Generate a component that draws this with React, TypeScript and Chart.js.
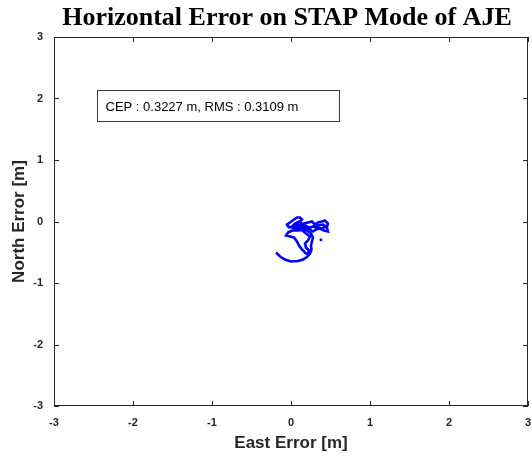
import React, { useEffect, useRef } from "react";
import { Chart, registerables } from "chart.js";

Chart.register(...registerables);

const titleText = "Horizontal Error on STAP Mode of AJE";
const xAxisTitle = "East Error [m]";
const yAxisTitle = "North Error [m]";
const annotationText = "CEP : 0.3227 m, RMS : 0.3109 m";
const tickValues = [-3, -2, -1, 0, 1, 2, 3];

const eastError = [
  -0.189, -0.139, -0.076, 0.0, 0.088, 0.152, 0.202, 0.24, 0.259, 0.253, 0.265, 0.278,
  0.253, 0.202, 0.152, 0.088, 0.013, -0.038, -0.063, -0.013, 0.038, 0.076, 0.101, 0.139,
  0.177, 0.215, 0.227, 0.189, 0.177, 0.215, 0.24, 0.126, 0.076, 0.013, -0.038, -0.051,
  -0.013, 0.038, 0.076, 0.114, 0.139, 0.101, 0.063, 0.114, 0.164, 0.215, 0.265, 0.303,
  0.341, 0.391, 0.429, 0.467, 0.455, 0.467, 0.417, 0.366, 0.316, 0.278, 0.24, 0.189,
  0.152, 0.101, 0.051, 0.013, 0.063, 0.126, 0.177, 0.227, 0.29, 0.341, 0.404, 0.442,
  0.391, 0.328, 0.278, 0.215, 0.164, 0.114, 0.063, 0.025,
];
const northError = [
  -0.504, -0.569, -0.618, -0.65, -0.642, -0.618, -0.577, -0.52, -0.455, -0.39, -0.325, -0.26,
  -0.195, -0.146, -0.13, -0.146, -0.146, -0.179, -0.228, -0.244, -0.26, -0.325, -0.39, -0.455,
  -0.504, -0.537, -0.472, -0.423, -0.358, -0.309, -0.244, -0.13, -0.098, -0.098, -0.081, -0.049,
  -0.016, 0.033, 0.065, 0.065, 0.033, -0.016, -0.049, -0.065, -0.033, -0.016, 0.0, -0.049,
  -0.016, 0.0, 0.016, -0.033, -0.098, -0.163, -0.146, -0.114, -0.13, -0.163, -0.13, -0.081,
  -0.049, 0.0, -0.033, -0.081, -0.065, -0.098, -0.065, -0.098, -0.081, -0.065, -0.049, -0.081,
  -0.114, -0.098, -0.081, -0.114, -0.098, -0.114, -0.13, -0.114,
];
const strayEast = [0.379];
const strayNorth = [-0.298];

const framePlugin = {
  id: "frameAndBox",
  afterDraw(chart: any) {
    const { ctx, chartArea, scales } = chart;
    const { left, right, top, bottom } = chartArea;
    ctx.save();
    ctx.strokeStyle = "#262626";
    ctx.lineWidth = 1;
    ctx.strokeRect(Math.round(left) + 0.5, Math.round(top) + 0.5, Math.round(right - left) - 1, Math.round(bottom - top) - 1);
    const tl = 5;
    ctx.beginPath();
    tickValues.forEach((v) => {
      const px = Math.round(scales.x.getPixelForValue(v)) + 0.5;
      ctx.moveTo(px, bottom);
      ctx.lineTo(px, bottom - tl);
      ctx.moveTo(px, top);
      ctx.lineTo(px, top + tl);
      const py = Math.round(scales.y.getPixelForValue(v)) + 0.5;
      ctx.moveTo(left, py);
      ctx.lineTo(left + tl, py);
      ctx.moveTo(right, py);
      ctx.lineTo(right - tl, py);
    });
    ctx.stroke();

    // title over the axes
    ctx.fillStyle = "#000000";
    ctx.font = "bold 26px 'Liberation Serif', 'Times New Roman', serif";
    ctx.textAlign = "center";
    ctx.textBaseline = "alphabetic";
    ctx.fillText(titleText, (left + right) / 2 - 4, 25);

    // annotation box (anchored in data coordinates)
    const bx = Math.round(scales.x.getPixelForValue(-2.45)) + 0.5;
    const by = Math.round(scales.y.getPixelForValue(2.145)) + 0.5;
    const bw = 242;
    const bh = 31;
    ctx.fillStyle = "#ffffff";
    ctx.fillRect(bx, by, bw, bh);
    ctx.strokeStyle = "#3a3a3a";
    ctx.strokeRect(bx, by, bw, bh);
    ctx.fillStyle = "#000000";
    ctx.font = "13px 'Liberation Sans', Arial, sans-serif";
    ctx.textBaseline = "middle";
    ctx.textAlign = "left";
    ctx.fillText(annotationText, bx + 8, by + bh / 2 + 1);
    ctx.restore();
  },
};

export default function App() {
  const ref = useRef<HTMLCanvasElement | null>(null);
  useEffect(() => {
    if (!ref.current) return;
    const chart = new Chart(ref.current, {
      type: "scatter",
      data: {
        datasets: [
          {
            data: eastError.map((x, i) => ({ x, y: northError[i] })),
            showLine: true,
            borderColor: "#0000ff",
            backgroundColor: "#0000ff",
            borderWidth: 2.6,
            pointRadius: 0,
            tension: 0,
          },
          {
            data: strayEast.map((x, i) => ({ x, y: strayNorth[i] })),
            showLine: false,
            borderColor: "#0000ff",
            backgroundColor: "#0000ff",
            pointRadius: 1.5,
            borderWidth: 0,
          },
        ],
      },
      options: {
        responsive: false,
        animation: false,
        layout: { padding: { left: 0, right: 3, top: 37, bottom: 0 } },
        plugins: {
          legend: { display: false },
          tooltip: { enabled: false },
          title: { display: false },
        },
        scales: {
          x: {
            type: "linear",
            min: -3,
            max: 3,
            afterFit: (s: any) => {
              s.height = 55;
              s.paddingLeft = 0;
              s.paddingRight = 0;
            },
            afterBuildTicks: (s: any) => {
              s.ticks = tickValues.map((v) => ({ value: v }));
            },
            grid: { display: false, drawTicks: false },
            border: { display: false },
            ticks: {
              padding: 10,
              color: "#262626",
              font: { family: "'Liberation Sans', Arial, sans-serif", size: 11, weight: "bold" },
              maxRotation: 0,
            },
            title: {
              display: true,
              text: xAxisTitle,
              color: "#262626",
              font: { family: "'Liberation Sans', Arial, sans-serif", size: 17, weight: "bold" },
              padding: { top: 0, bottom: 7 },
            },
          },
          y: {
            type: "linear",
            min: -3,
            max: 3,
            afterFit: (s: any) => {
              s.width = 54;
              s.paddingTop = 0;
              s.paddingBottom = 0;
            },
            afterBuildTicks: (s: any) => {
              s.ticks = tickValues.map((v) => ({ value: v }));
            },
            grid: { display: false, drawTicks: false },
            border: { display: false },
            ticks: {
              padding: 11,
              color: "#262626",
              font: { family: "'Liberation Sans', Arial, sans-serif", size: 11, weight: "bold" },
            },
            title: {
              display: true,
              text: yAxisTitle,
              color: "#262626",
              font: { family: "'Liberation Sans', Arial, sans-serif", size: 17, weight: "bold" },
              padding: { top: 9, bottom: 0 },
            },
          },
        },
      },
      plugins: [framePlugin],
    });
    return () => chart.destroy();
  }, []);
  return (
    <div style={{ position: "absolute", left: 0, top: 0, width: 532, height: 461, background: "#fff" }}>
      <canvas ref={ref} width={532} height={461} style={{ width: 532, height: 461 }} />
    </div>
  );
}
